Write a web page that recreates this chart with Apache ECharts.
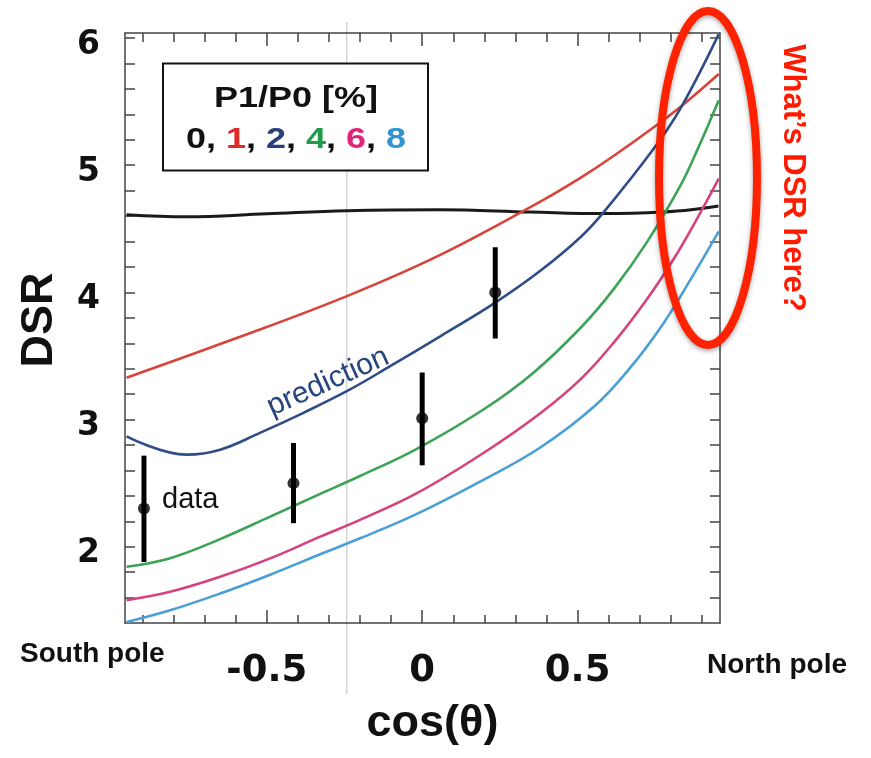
<!DOCTYPE html>
<html><head><meta charset="utf-8">
<script src="https://cdn.jsdelivr.net/npm/echarts@6/dist/echarts.min.js"></script>
<style>html,body{margin:0;padding:0;background:#fff}#c{width:871px;height:758px}</style>
</head><body><div id="c"></div>
<script>
// ---- data ----
const cos0 = [-0.951, -0.758, -0.5, -0.242, 0.058, 0.348, 0.583, 0.776, 0.884, 0.953];
const dsr0 = [4.61, 4.594, 4.618, 4.642, 4.65, 4.632, 4.62, 4.632, 4.655, 4.679];

const cos1 = [-0.951, -0.608, -0.242, 0.058, 0.38, 0.509, 0.605, 0.756, 0.841, 0.954];
const dsr1 = [3.329, 3.631, 3.971, 4.295, 4.714, 4.901, 5.055, 5.319, 5.48, 5.718];

const cos2 = [-0.951, -0.758, -0.65, -0.522, -0.382, -0.232, -0.103, 0.058, 0.235, 0.38, 0.509, 0.584, 0.745, 0.831, 0.954];
const dsr2 = [2.868, 2.724, 2.763, 2.895, 3.053, 3.237, 3.42, 3.655, 3.92, 4.17, 4.434, 4.631, 5.131, 5.447, 6.031];

const cos4 = [-0.951, -0.811, -0.65, -0.489, -0.328, -0.2, -0.017, 0.197, 0.358, 0.509, 0.616, 0.723, 0.831, 0.884, 0.954];
const dsr4 = [1.842, 1.91, 2.06, 2.237, 2.415, 2.556, 2.77, 3.079, 3.369, 3.72, 4.026, 4.395, 4.841, 5.115, 5.512];

const cos6 = [-0.951, -0.811, -0.65, -0.489, -0.328, -0.2, -0.017, 0.197, 0.38, 0.509, 0.616, 0.723, 0.809, 0.884, 0.954];
const dsr6 = [1.579, 1.645, 1.763, 1.908, 2.079, 2.211, 2.421, 2.737, 3.05, 3.316, 3.605, 3.947, 4.263, 4.579, 4.894];

const cos8 = [-0.951, -0.811, -0.65, -0.489, -0.328, -0.2, -0.017, 0.197, 0.38, 0.552, 0.67, 0.777, 0.863, 0.954];
const dsr8 = [1.408, 1.5, 1.632, 1.78, 1.941, 2.066, 2.258, 2.526, 2.78, 3.1, 3.41, 3.76, 4.1, 4.48];

const dataCos = [-0.895, -0.414, 0.0, 0.235];
const dataDsr = [2.30, 2.50, 3.01, 4.00];
const dataLow = [1.88, 2.185, 2.64, 3.637];
const dataHigh = [2.716, 2.816, 3.37, 4.355];

const xLabelTicks = [-0.5, 0, 0.5];
const xMinorTicks = [-0.9, -0.8, -0.7, -0.6, -0.4, -0.3, -0.2, -0.1, 0.1, 0.2, 0.3, 0.4, 0.6, 0.7, 0.8, 0.9];
const yTicks = [1.6, 1.8, 2.0, 2.2, 2.4, 2.6, 2.8, 3.0, 3.2, 3.4, 3.6, 3.8, 4.0, 4.2, 4.4, 4.6, 4.8, 5.0, 5.2, 5.4, 5.6, 5.8, 6.0];
const yLabels = [2, 3, 4, 5, 6];

const legendValues = ['0', '1', '2', '4', '6', '8'];
const curveColors = ['#1a1a1a', '#d8443a', '#2f4d86', '#3da356', '#d6427f', '#4aa0d5'];
const legendColors = ['#111111', '#e02a2a', '#2b3f7e', '#1f9d4b', '#e2237a', '#2f94d1'];

const X_MIN = -0.956, X_MAX = 0.958, Y_MIN = 1.4, Y_MAX = 6.04;

const pairs = (xs, ys) => xs.map((x, i) => [x, ys[i]]);
const curves = [[cos0, dsr0], [cos1, dsr1], [cos2, dsr2], [cos4, dsr4], [cos6, dsr6], [cos8, dsr8]];

const axisCol = '#444';
const baseX = {
  type: 'value', min: X_MIN, max: X_MAX, splitLine: { show: false },
  axisLine: { show: false }, axisLabel: { show: false }
};
const baseY = {
  type: 'value', min: Y_MIN, max: Y_MAX, splitLine: { show: false },
  axisLine: { show: true, lineStyle: { color: axisCol, width: 1.5 } },
  axisLabel: { show: false }
};

const chart = echarts.init(document.getElementById('c'));

const legendFont = 'bold 30px "Liberation Sans"';
const rich = { k: { fill: '#111', font: legendFont } };
legendValues.forEach((v, i) => { rich['c' + i] = { fill: legendColors[i], font: legendFont }; });
const legendRow = legendValues.map((v, i) => '{c' + i + '|' + v + '}').join('{k|, }');

chart.setOption({
  backgroundColor: '#ffffff',
  animation: false,
  grid: { left: 125, right: 151, top: 33, bottom: 135, containLabel: false },
  xAxis: [
    Object.assign({}, baseX, {
      position: 'bottom',
      axisLine: { show: true, onZero: false, lineStyle: { color: axisCol, width: 1.5 } },
      axisTick: { show: true, inside: true, length: 13, customValues: xLabelTicks, lineStyle: { color: axisCol, width: 1.5 } },
      axisLabel: { show: true, customValues: xLabelTicks, margin: 30,
        fontFamily: 'DejaVu Sans', fontWeight: 'bold', fontSize: 37, color: '#111' },
      name: 'cos(θ)', nameLocation: 'middle', nameGap: 78,
      nameTextStyle: { fontFamily: 'Liberation Sans', fontWeight: 'bold', fontSize: 45, color: '#111', padding: [0, 0, 0, 20] }
    }),
    Object.assign({}, baseX, {
      position: 'bottom',
      axisTick: { show: true, inside: true, length: 8, customValues: xMinorTicks, lineStyle: { color: axisCol, width: 1.5 } }
    }),
    Object.assign({}, baseX, {
      position: 'top',
      axisLine: { show: true, onZero: false, lineStyle: { color: axisCol, width: 1.5 } },
      axisTick: { show: true, inside: true, length: 9, customValues: xMinorTicks, lineStyle: { color: axisCol, width: 1.5 } }
    }),
    Object.assign({}, baseX, {
      position: 'top',
      axisTick: { show: true, inside: true, length: 13, customValues: xLabelTicks, lineStyle: { color: axisCol, width: 1.5 } }
    })
  ],
  yAxis: [
    Object.assign({}, baseY, {
      position: 'left',
      axisLine: { show: true, onZero: false, lineStyle: { color: axisCol, width: 1.5 } },
      axisTick: { show: true, inside: true, length: 10, customValues: yTicks, lineStyle: { color: axisCol, width: 1.5 } },
      axisLabel: { show: true, customValues: yLabels, margin: 25, verticalAlign: 'top', lineHeight: 14,
        fontFamily: 'DejaVu Sans', fontWeight: 'bold', fontSize: 33, color: '#111' },
      name: 'DSR', nameLocation: 'middle', nameGap: 63,
      nameTextStyle: { fontFamily: 'Liberation Sans', fontWeight: 'bold', fontSize: 45, color: '#111', padding: [0, 0, 0, 16] }
    }),
    Object.assign({}, baseY, {
      position: 'right',
      axisLine: { show: true, onZero: false, lineStyle: { color: axisCol, width: 1.5 } },
      axisTick: { show: true, inside: true, length: 10, customValues: yTicks, lineStyle: { color: axisCol, width: 1.5 } }
    })
  ],
  series: curves.map((c, i) => ({
    type: 'line', name: 'P1/P0 ' + legendValues[i] + '%',
    data: pairs(c[0], c[1]), smooth: 0.4, showSymbol: false,
    lineStyle: { color: curveColors[i], width: i === 0 ? 3 : 2.6 },
    z: 3
  })).concat([
    {
      type: 'custom', name: 'error',
      renderItem: function (params, api) {
        const x = api.value(0);
        const p1 = api.coord([x, api.value(1)]);
        const p2 = api.coord([x, api.value(2)]);
        return { type: 'line', shape: { x1: p1[0], y1: p1[1], x2: p2[0], y2: p2[1] },
          style: { stroke: '#000', lineWidth: 5 } };
      },
      encode: { x: 0, y: [1, 2] },
      data: dataCos.map((x, i) => [x, dataLow[i], dataHigh[i]]),
      z: 5
    },
    {
      type: 'scatter', name: 'data', data: pairs(dataCos, dataDsr),
      symbol: 'circle', symbolSize: 12, itemStyle: { color: '#000' }, z: 6
    }
  ]),
  graphic: [
    { type: 'line', z: -1, shape: { x1: 346.7, y1: 22, x2: 346.7, y2: 694 },
      style: { stroke: '#d4d4d4', lineWidth: 1.5 } },
    { type: 'rect', shape: { x: 163, y: 63.5, width: 265, height: 107 },
      style: { fill: '#fff', stroke: '#111', lineWidth: 2 }, z: 10 },
    { type: 'text', x: 296, y: 99, scaleX: 1.2, z: 11,
      style: { text: 'P1/P0 [%]', font: legendFont, fill: '#111', align: 'center', verticalAlign: 'middle' } },
    { type: 'text', x: 296, y: 140, scaleX: 1.2, z: 11,
      style: { text: legendRow, font: legendFont, fill: '#111', align: 'center', verticalAlign: 'middle', rich: rich } },
    { type: 'text', x: 162, y: 500, z: 11,
      style: { text: 'data', font: '29px "Liberation Sans"', fill: '#111', align: 'left', verticalAlign: 'middle' } },
    { type: 'text', x: 328, y: 382, rotation: 0.42, z: 11,
      style: { text: 'prediction', font: '30px "Liberation Sans"', fill: '#27467e', align: 'center', verticalAlign: 'middle' } },
    { type: 'text', x: 20, y: 654, z: 11,
      style: { text: 'South pole', font: 'bold 28px "Liberation Sans"', fill: '#111', align: 'left', verticalAlign: 'middle' } },
    { type: 'text', x: 707, y: 665, z: 11,
      style: { text: 'North pole', font: 'bold 28px "Liberation Sans"', fill: '#111', align: 'left', verticalAlign: 'middle' } },
    { type: 'ellipse', z: 12, shape: { cx: 708, cy: 178, rx: 49, ry: 167 },
      style: { fill: 'none', stroke: '#ff2200', lineWidth: 8, shadowBlur: 5, shadowColor: 'rgba(0,0,0,0.35)', shadowOffsetY: 2 } },
    { type: 'text', x: 793, y: 178, rotation: -Math.PI / 2, z: 12,
      style: { text: 'What\u2019s DSR here?', font: 'bold 31px "Liberation Sans"', fill: '#ff1a00', align: 'center', verticalAlign: 'middle' } }
  ]
});
</script></body></html>
